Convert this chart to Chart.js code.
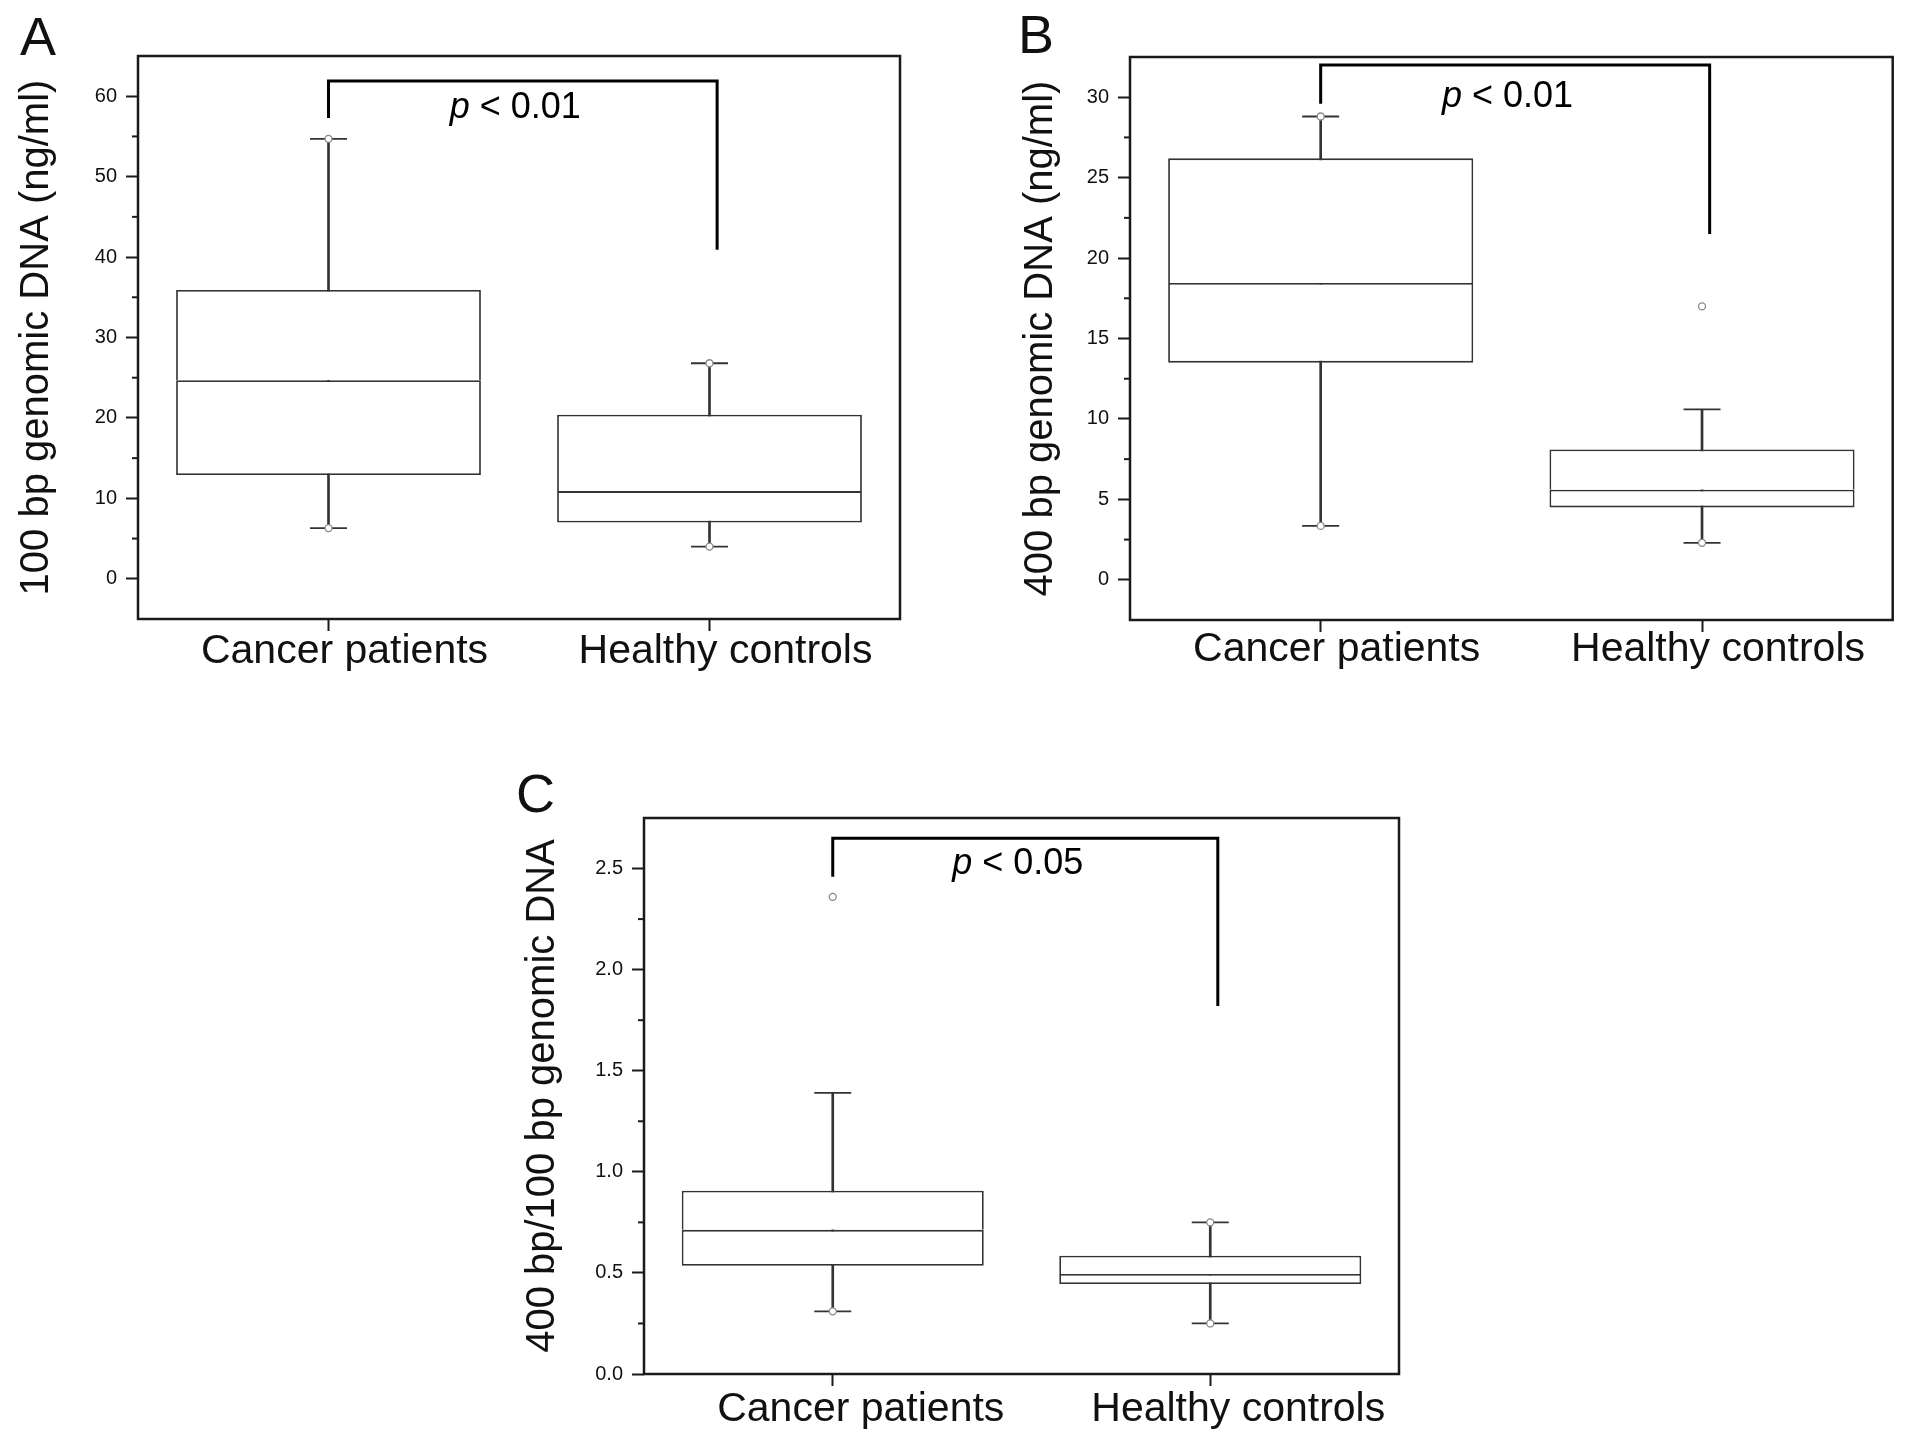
<!DOCTYPE html>
<html>
<head>
<meta charset="utf-8">
<script src="https://cdn.jsdelivr.net/npm/chart.js@4.4.0/dist/chart.umd.min.js"></script>
<style>
	body { margin: 0; background: #fff; width: 1913px; height: 1449px; overflow: hidden; position: relative; font-family: "Liberation Sans", Arial, sans-serif; }
	.panel { position: absolute; }
	.letter { position: absolute; font-size: 54px; line-height: 1; color: #111; }
</style>
</head>
<body>
<div class="letter" style="left:20px;top:9px">A</div>
<div class="letter" style="left:1018px;top:7px">B</div>
<div class="letter" style="left:516px;top:766px">C</div>
<div class="panel" style="left:0;top:0;width:930px;height:700px"><canvas id="chart-a"></canvas></div>
<div class="panel" style="left:1000px;top:0;width:913px;height:700px"><canvas id="chart-b"></canvas></div>
<div class="panel" style="left:500px;top:760px;width:930px;height:689px"><canvas id="chart-c"></canvas></div>
<script>
const FONT = "'Liberation Sans', Arial, sans-serif";
const categories = ["Cancer patients", "Healthy controls"];

// A: 100 bp genomic DNA
const whiskerLowA = [6.3, 4.0];
const q1A = [12.9, 7.0];
const medianA = [24.7, 10.9];
const q3A = [35.9, 20.4];
const whiskerHighA = [54.7, 26.8];
const pointLowA = [6.3, 4.0];
const pointHighA = [54.7, 26.8];
const ticksA = [0, 10, 20, 30, 40, 50, 60];
const bracketA = [57.3, 61.9, 40.9];

// B: 400 bp genomic DNA
const whiskerLowB = [3.35, 2.3];
const q1B = [13.5, 4.5];
const medianB = [18.45, 5.6];
const q3B = [26.2, 8.1];
const whiskerHighB = [28.8, 10.6];
const pointLowB = [3.35, 2.3];
const pointHighB = [28.8, 17.0];
const ticksB = [0, 5, 10, 15, 20, 25, 30];
const bracketB = [29.6, 32.0, 21.5];

// C: ratio
const whiskerLowC = [0.31, 0.25];
const q1C = [0.535, 0.445];
const medianC = [0.713, 0.495];
const q3C = [0.906, 0.585];
const whiskerHighC = [1.39, 0.75];
const pointLowC = [0.31, 0.25];
const pointHighC = [2.36, 0.75];
const ticksC = [0.0, 0.5, 1.0, 1.5, 2.0, 2.5];
const bracketC = [2.46, 2.65, 1.82];

const framePlugin = {
	id: "frame",
	afterDatasetsDraw(chart, args, opts) {
		const { ctx, chartArea: a } = chart;
		const x = chart.scales.x;
		const y = chart.scales.y;
		ctx.save();
		ctx.strokeStyle = "#1a1a1a";
		ctx.lineWidth = 2.5;
		ctx.strokeRect(a.left, a.top, a.right - a.left, a.bottom - a.top);

		// minor ticks halfway between the labelled ones
		ctx.lineWidth = 2;
		const ticks = opts.ticks;
		const step = ticks[1] - ticks[0];
		for (let i = -1; i < ticks.length; i++) {
			const v = (i < 0 ? ticks[0] - step : ticks[i]) + step / 2;
			if (v <= y.min || v >= y.max - 1e-9) continue;
			const py = y.getPixelForValue(v);
			ctx.beginPath();
			ctx.moveTo(a.left - 6, py);
			ctx.lineTo(a.left, py);
			ctx.stroke();
		}

		// significance bracket
		const [leftEnd, top, rightEnd] = opts.bracket;
		const x0 = x.getPixelForValue(0);
		const x1 = x.getPixelForValue(1.02);
		const yTop = y.getPixelForValue(top);
		ctx.strokeStyle = "#000";
		ctx.lineWidth = 3;
		ctx.beginPath();
		ctx.moveTo(x0, y.getPixelForValue(leftEnd));
		ctx.lineTo(x0, yTop);
		ctx.lineTo(x1, yTop);
		ctx.lineTo(x1, y.getPixelForValue(rightEnd));
		ctx.stroke();

		ctx.fillStyle = "#000";
		ctx.textBaseline = "alphabetic";
		ctx.textAlign = "left";
		const italic = "italic 36px " + FONT;
		const normal = "36px " + FONT;
		ctx.font = italic;
		const wp = ctx.measureText("p").width;
		ctx.font = normal;
		const rest = " < " + opts.label;
		const wr = ctx.measureText(rest).width;
		const cx = x.getPixelForValue(0.49);
		const startX = cx - (wp + wr) / 2;
		const baseY = yTop + opts.textDy;
		ctx.font = italic;
		ctx.fillText("p", startX, baseY);
		ctx.font = normal;
		ctx.fillText(rest, startX + wp, baseY);
		ctx.restore();
	},
};

function renderBoxChart(id, cfg) {
	const ctx = document.getElementById(id);
	const lineColor = "#333";

	new Chart(ctx, {
		type: "bar",
		data: {
			labels: categories,
			datasets: [
				{
					data: categories.map((c, i) => [cfg.whiskerLow[i], cfg.whiskerHigh[i]]),
					backgroundColor: lineColor,
					barThickness: 2,
					grouped: false,
					order: 4,
				},
				{
					data: categories.map((c, i) => [cfg.q1[i], cfg.median[i]]),
					backgroundColor: "#fff",
					borderColor: lineColor,
					borderWidth: 1.8,
					borderSkipped: false,
					grouped: false,
					order: 3,
				},
				{
					data: categories.map((c, i) => [cfg.median[i], cfg.q3[i]]),
					backgroundColor: "#fff",
					borderColor: lineColor,
					borderWidth: { top: 1.8, left: 1.8, right: 1.8, bottom: 0 },
					borderSkipped: false,
					grouped: false,
					order: 3,
				},
				{
					type: "line",
					data: cfg.whiskerLow,
					showLine: false,
					pointStyle: "line",
					pointRadius: 18.5,
					pointBorderWidth: 1.8,
					pointBorderColor: lineColor,
					order: 2,
				},
				{
					type: "line",
					data: cfg.whiskerHigh,
					showLine: false,
					pointStyle: "line",
					pointRadius: 18.5,
					pointBorderWidth: 1.8,
					pointBorderColor: lineColor,
					order: 2,
				},
				{
					type: "line",
					data: cfg.pointLow,
					showLine: false,
					pointStyle: "circle",
					pointRadius: 3.5,
					pointBackgroundColor: "#fff",
					pointBorderColor: "#888",
					pointBorderWidth: 1.3,
					order: 1,
				},
				{
					type: "line",
					data: cfg.pointHigh,
					showLine: false,
					pointStyle: "circle",
					pointRadius: 3.5,
					pointBackgroundColor: "#fff",
					pointBorderColor: "#888",
					pointBorderWidth: 1.3,
					order: 1,
				},
			],
		},
		options: {
			responsive: true,
			maintainAspectRatio: false,
			animation: false,
			events: [],
			categoryPercentage: 0.8,
			barPercentage: 1.0,
			layout: {
				padding: { top: cfg.padTop, right: cfg.padRight, left: 0, bottom: 0 },
			},
			plugins: {
				legend: { display: false },
				tooltip: { enabled: false },
				frame: {
					ticks: cfg.ticks,
					bracket: cfg.bracket,
					label: cfg.pLabel,
					textDy: cfg.textDy,
				},
			},
			scales: {
				x: {
					type: "category",
					offset: true,
					border: { display: false },
					grid: {
						display: true,
						offset: false,
						drawOnChartArea: false,
						drawTicks: true,
						tickLength: 12,
						tickWidth: 2,
						tickColor: "#1a1a1a",
					},
					ticks: {
						color: "#111",
						font: { family: FONT, size: 41, lineHeight: 1 },
						padding: cfg.xPad,
						labelOffset: cfg.labelOffset,
						maxRotation: 0,
						autoSkip: false,
					},
					afterFit: (s) => {
						s.height = cfg.xHeight;
					},
				},
				y: {
					min: cfg.min,
					max: cfg.max,
					border: { display: false },
					grid: {
						display: true,
						drawOnChartArea: false,
						drawTicks: true,
						tickLength: 12,
						tickWidth: 2,
						tickColor: "#1a1a1a",
					},
					ticks: {
						color: "#111",
						font: { family: FONT, size: 20 },
						padding: 9,
						callback: cfg.format,
					},
					afterBuildTicks: (s) => {
						s.ticks = cfg.ticks.map((v) => ({ value: v }));
					},
					title: {
						display: true,
						text: cfg.title,
						color: "#111",
						font: { family: FONT, size: 40, lineHeight: 1.2 },
						padding: { top: cfg.titlePad, bottom: 0 },
					},
					afterFit: (s) => {
						s.width = cfg.yWidth;
					},
				},
			},
		},
		plugins: [framePlugin],
	});
}

renderBoxChart("chart-a", {
	whiskerLow: whiskerLowA, q1: q1A, median: medianA, q3: q3A, whiskerHigh: whiskerHighA,
	pointLow: pointLowA, pointHigh: pointHighA, ticks: ticksA, bracket: bracketA,
	min: -5, max: 65, format: (v) => String(v), pLabel: "0.01",
	title: "100 bp genomic DNA (ng/ml)",
	padTop: 56, padRight: 30, yWidth: 138, xHeight: 81, titlePad: 13, xPad: 0, labelOffset: 16, textDy: 37,
});

renderBoxChart("chart-b", {
	whiskerLow: whiskerLowB, q1: q1B, median: medianB, q3: q3B, whiskerHigh: whiskerHighB,
	pointLow: pointLowB, pointHigh: pointHighB, ticks: ticksB, bracket: bracketB,
	min: -2.5, max: 32.5, format: (v) => String(v), pLabel: "0.01",
	title: "400 bp genomic DNA (ng/ml)",
	padTop: 57, padRight: 19, yWidth: 130, xHeight: 80, titlePad: 17, xPad: -3, labelOffset: 16, textDy: 42,
});

renderBoxChart("chart-c", {
	whiskerLow: whiskerLowC, q1: q1C, median: medianC, q3: q3C, whiskerHigh: whiskerHighC,
	pointLow: pointLowC, pointHigh: pointHighC, ticks: ticksC, bracket: bracketC,
	min: 0, max: 2.75, format: (v) => v.toFixed(1), pLabel: "0.05",
	title: "400 bp/100 bp genomic DNA",
	padTop: 58, padRight: 31, yWidth: 144, xHeight: 75, titlePad: 19, xPad: 3, labelOffset: 28, textDy: 36,
});
</script>
</body>
</html>
